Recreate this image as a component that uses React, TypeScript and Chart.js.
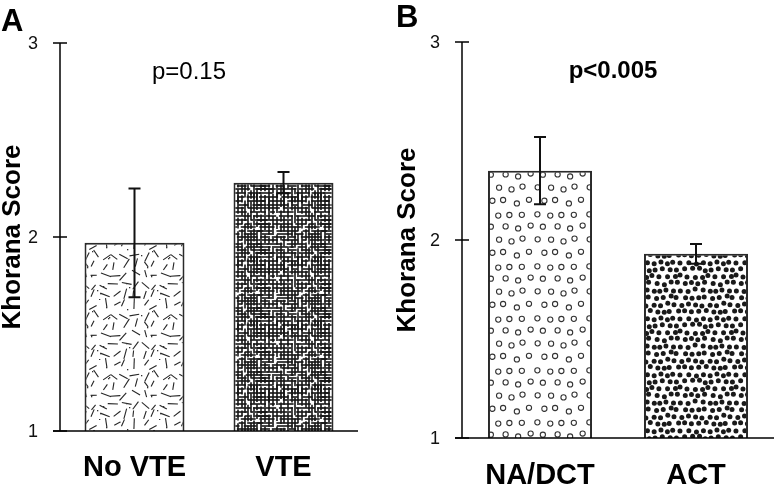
import React, { useEffect, useRef } from "react";
import { Chart, registerables } from "chart.js";
Chart.register(...registerables);

const categoriesA = ["No VTE", "VTE"];
const meanA = [1.97, 2.28];
const errA = [0.28, 0.055];
const categoriesB = ["NA/DCT", "ACT"];
const meanB = [2.35, 1.93];
const errB = [0.17, 0.05];
const yMin = 1;
const yMax = 3;
const yTickValues = [1, 2, 3];
const yTickLabels = ["1", "2", "3"];
const pTextA = "p=0.15";
const pTextB = "p<0.005";
const pValueY = 2.85;
const letterA = "A";
const letterB = "B";
const yTitle = "Khorana Score";

const FONT = "'Liberation Sans', Arial, Helvetica, sans-serif";

function rng(seed: number) {
  let a = seed >>> 0;
  return () => {
    a = (a + 0x6d2b79f5) >>> 0;
    let t = a;
    t = Math.imul(t ^ (t >>> 15), t | 1);
    t ^= t + Math.imul(t ^ (t >>> 7), t | 61);
    return ((t ^ (t >>> 14)) >>> 0) / 4294967296;
  };
}

function makeTile(size: number, draw: (ctx: CanvasRenderingContext2D, s: number) => void) {
  const c = document.createElement("canvas");
  c.width = size;
  c.height = size;
  const ctx = c.getContext("2d")!;
  ctx.fillStyle = "#ffffff";
  ctx.fillRect(0, 0, size, size);
  draw(ctx, size);
  return ctx.createPattern(c, "repeat")!;
}

const offs = [-1, 0, 1];

function dashPattern() {
  return makeTile(60, (ctx, s) => {
    const r = rng(23);
    ctx.strokeStyle = "#262626";
    ctx.lineWidth = 1.1;
    const cell = 10;
    for (let j = 0; j < s / cell; j++) for (let i = 0; i < s / cell; i++) {
      const x = i * cell + cell / 2 + (r() - 0.5) * 5;
      const y = j * cell + cell / 2 + (r() - 0.5) * 5;
      const a = r() * Math.PI, L = 6 + r() * 5;
      const dx = (Math.cos(a) * L) / 2, dy = (Math.sin(a) * L) / 2;
      for (const ox of offs) for (const oy of offs) {
        ctx.beginPath();
        ctx.moveTo(x - dx + ox * s, y - dy + oy * s);
        ctx.lineTo(x + dx + ox * s, y + dy + oy * s);
        ctx.stroke();
      }
    }
    ctx.fillStyle = "#333";
    for (let i = 0; i < 14; i++) {
      ctx.fillRect(Math.floor(r() * s), Math.floor(r() * s), 1.3, 1.3);
    }
  });
}

function mazePattern() {
  return makeTile(64, (ctx, s) => {
    const r = rng(11);
    ctx.strokeStyle = "#161616";
    ctx.lineWidth = 1.6;
    for (let dir = 0; dir < 2; dir++) {
      let c = 1;
      while (c < s) {
        let p = r() * 6;
        while (p < s) {
          const len = 4 + r() * 18;
          for (const o of [0, -s]) {
            ctx.beginPath();
            if (dir === 0) {
              ctx.moveTo(p + o, c);
              ctx.lineTo(p + len + o, c);
            } else {
              ctx.moveTo(c, p + o);
              ctx.lineTo(c, p + len + o);
            }
            ctx.stroke();
          }
          p += len + 1.5 + r() * 4;
        }
        c += 3 + Math.round(r() * 1.4);
      }
    }
  });
}

function circlePattern() {
  return makeTile(52, (ctx, s) => {
    const r = rng(5);
    ctx.strokeStyle = "#333";
    ctx.lineWidth = 1.1;
    for (let j = 0; j < 4; j++) for (let i = 0; i < 4; i++) {
      const cx = i * 13 + 6.5 + (j % 2) * 6.5 + (r() - 0.5) * 4;
      const cy = j * 13 + 6.5 + (r() - 0.5) * 4;
      for (const ox of offs) for (const oy of offs) {
        ctx.beginPath();
        ctx.arc(cx + ox * s, cy + oy * s, 2.6, 0, Math.PI * 2);
        ctx.stroke();
      }
    }
  });
}

function dotPattern() {
  return makeTile(56, (ctx, s) => {
    const r = rng(3);
    ctx.fillStyle = "#1a1a1a";
    for (let j = 0; j < 8; j++) for (let i = 0; i < 8; i++) {
      const cx = i * 7 + 3.5 + (j % 2) * 3.5 + (r() - 0.5) * 3;
      const cy = j * 7 + 3.5 + (r() - 0.5) * 3;
      for (const ox of offs) for (const oy of offs) {
        ctx.beginPath();
        ctx.arc(cx + ox * s, cy + oy * s, 2.5, 0, Math.PI * 2);
        ctx.fill();
      }
    }
  });
}

type PanelCfg = {
  labels: string[];
  means: number[];
  errs: number[];
  patterns: CanvasPattern[];
  pText: string;
  pBold: boolean;
  pX: number;
  letter: string;
  letterX: number;
  letterY: number;
  padLeft: number;
  padRight: number;
  padTop: number;
  yWidth: number;
  xHeight: number;
  barPct: number;
  labelPad: number;
};

function buildChart(canvas: HTMLCanvasElement, cfg: PanelCfg) {
  const overlay = {
    id: "overlay",
    afterDraw(chart: any) {
      const ctx = chart.ctx as CanvasRenderingContext2D;
      const area = chart.chartArea;
      const xs = chart.scales.x;
      const ys = chart.scales.y;
      ctx.save();
      ctx.strokeStyle = "#000";
      ctx.lineWidth = 1.5;
      ctx.beginPath();
      ctx.moveTo(area.left, ys.getPixelForValue(yMax));
      ctx.lineTo(area.left, area.bottom);
      ctx.stroke();
      ctx.fillStyle = "#111";
      ctx.font = `18px ${FONT}`;
      ctx.textAlign = "right";
      ctx.textBaseline = "middle";
      yTickValues.forEach((v, i) => {
        const y = ys.getPixelForValue(v);
        ctx.beginPath();
        ctx.moveTo(area.left - 7, y);
        ctx.lineTo(area.left + 7, y);
        ctx.stroke();
        ctx.fillText(yTickLabels[i], area.left - 22, y + 1);
      });
      ctx.beginPath();
      ctx.moveTo(area.left - 7, area.bottom);
      ctx.lineTo(area.right, area.bottom);
      ctx.stroke();
      ctx.strokeStyle = "#111";
      ctx.lineWidth = 2;
      cfg.means.forEach((m, i) => {
        const x = xs.getPixelForValue(i);
        const yt = ys.getPixelForValue(m + cfg.errs[i]);
        const yb = ys.getPixelForValue(m - cfg.errs[i]);
        ctx.beginPath();
        ctx.moveTo(x, yt);
        ctx.lineTo(x, yb);
        ctx.moveTo(x - 6, yt);
        ctx.lineTo(x + 6, yt);
        ctx.moveTo(x - 6, yb);
        ctx.lineTo(x + 6, yb);
        ctx.stroke();
      });
      ctx.fillStyle = "#000";
      ctx.textAlign = "center";
      ctx.textBaseline = "middle";
      ctx.font = `${cfg.pBold ? "bold " : ""}24px ${FONT}`;
      ctx.fillText(cfg.pText, cfg.pX, ys.getPixelForValue(pValueY));
      ctx.textAlign = "left";
      ctx.textBaseline = "alphabetic";
      ctx.font = `bold 31px ${FONT}`;
      ctx.fillText(cfg.letter, cfg.letterX, cfg.letterY);
      ctx.restore();
    },
  };

  return new Chart(canvas, {
    type: "bar",
    data: {
      labels: cfg.labels,
      datasets: [
        {
          data: cfg.means,
          backgroundColor: cfg.patterns,
          borderColor: "#2a2a2a",
          borderWidth: 2,
          barPercentage: cfg.barPct,
          categoryPercentage: 1,
        },
      ],
    },
    options: {
      responsive: false,
      animation: false,
      devicePixelRatio: 1,
      layout: { padding: { left: cfg.padLeft, right: cfg.padRight, top: cfg.padTop, bottom: 0 } },
      plugins: { legend: { display: false }, tooltip: { enabled: false } },
      scales: {
        x: {
          grid: { display: false, drawTicks: false },
          border: { display: false },
          ticks: { color: "#000", font: { family: FONT, size: 29, weight: "bold" }, padding: cfg.labelPad },
          afterFit: (s: any) => {
            s.height = cfg.xHeight;
          },
        },
        y: {
          min: yMin,
          max: yMax,
          afterBuildTicks: (s: any) => {
            s.ticks = yTickValues.map((v) => ({ value: v }));
          },
          grid: { display: false, drawTicks: false },
          border: { display: false },
          ticks: { display: false },
          title: {
            display: true,
            text: yTitle,
            color: "#000",
            font: { family: FONT, size: 26, weight: "bold", lineHeight: 1 },
            padding: 0,
          },
          afterFit: (s: any) => {
            s.width = cfg.yWidth;
          },
        },
      },
    } as any,
    plugins: [overlay],
  });
}

export default function App() {
  const refA = useRef<HTMLCanvasElement>(null);
  const refB = useRef<HTMLCanvasElement>(null);

  useEffect(() => {
    const chartA = buildChart(refA.current!, {
      labels: categoriesA,
      means: meanA,
      errs: errA,
      patterns: [dashPattern(), mazePattern()],
      pText: pTextA,
      pBold: false,
      pX: 189,
      letter: letterA,
      letterX: 1,
      letterY: 31,
      padLeft: 0,
      padRight: 29,
      padTop: 43,
      yWidth: 60,
      xHeight: 55,
      barPct: 0.671,
      labelPad: 20,
    });
    const chartB = buildChart(refB.current!, {
      labels: categoriesB,
      means: meanB,
      errs: errB,
      patterns: [circlePattern(), dotPattern()],
      pText: pTextB,
      pBold: true,
      pX: 226,
      letter: letterB,
      letterX: 9,
      letterY: 27,
      padLeft: 8,
      padRight: 0,
      padTop: 42,
      yWidth: 67,
      xHeight: 48,
      barPct: 0.667,
      labelPad: 21,
    });
    return () => {
      chartA.destroy();
      chartB.destroy();
    };
  }, []);

  return (
    <div style={{ position: "fixed", left: 0, top: 0, width: 774, height: 486, background: "#fff" }}>
      <canvas ref={refA} width={387} height={486} style={{ position: "absolute", left: 0, top: 0, width: 387, height: 486 }} />
      <canvas ref={refB} width={387} height={486} style={{ position: "absolute", left: 387, top: 0, width: 387, height: 486 }} />
    </div>
  );
}
